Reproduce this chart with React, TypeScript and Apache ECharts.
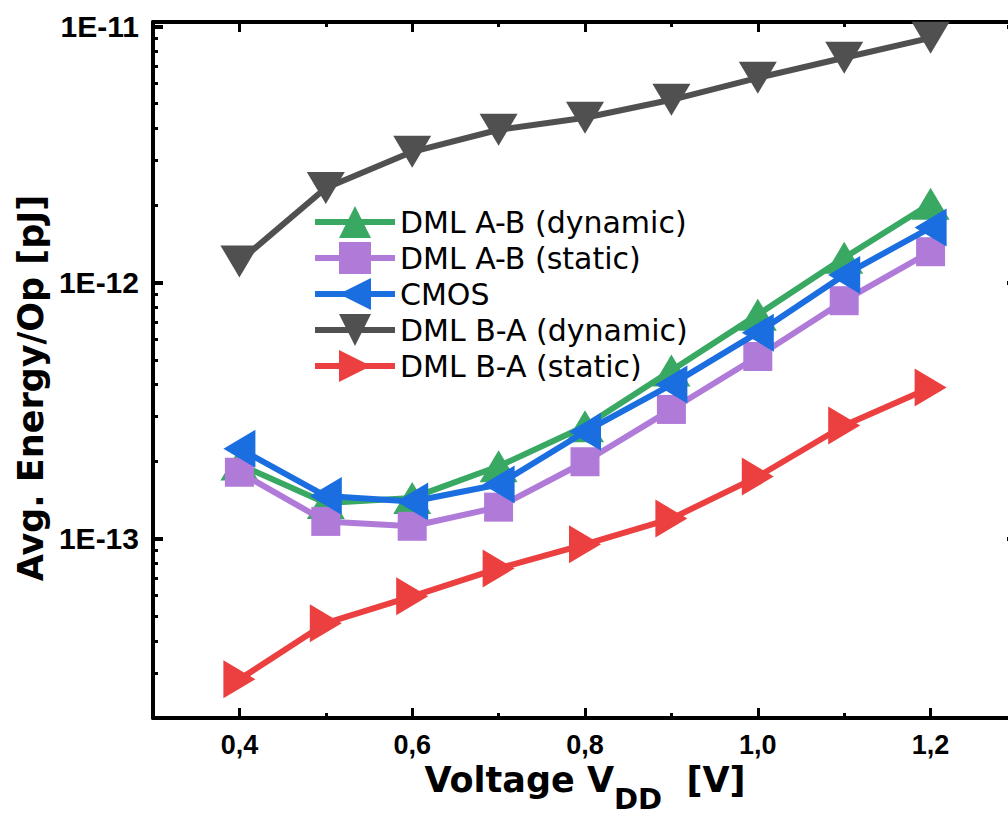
import React, { useEffect, useRef } from 'react';
import * as echarts from 'echarts';

const voltages = [0.4, 0.5, 0.6, 0.7, 0.8, 0.9, 1.0, 1.1, 1.2];
const dmlAbDynamic = [1.95e-13, 1.38e-13, 1.445e-13, 1.92e-13, 2.75e-13, 4.54e-13, 7.5e-13, 1.25e-12, 2.03e-12];
const dmlAbStatic = [1.82e-13, 1.17e-13, 1.12e-13, 1.33e-13, 2.0e-13, 3.2e-13, 5.15e-13, 8.5e-13, 1.32e-12];
const cmos = [2.25e-13, 1.47e-13, 1.4e-13, 1.63e-13, 2.62e-13, 4.0e-13, 6.38e-13, 1.07e-12, 1.64e-12];
const dmlBaDynamic = [1.21e-12, 2.34e-12, 3.24e-12, 3.95e-12, 4.4e-12, 5.17e-12, 6.3e-12, 7.54e-12, 9.02e-12];
const dmlBaStatic = [2.83e-14, 4.69e-14, 5.97e-14, 7.67e-14, 9.52e-14, 1.2e-13, 1.75e-13, 2.77e-13, 3.9e-13];

const seriesNames = ['DML A-B (dynamic)', 'DML A-B (static)', 'CMOS', 'DML B-A (dynamic)', 'DML B-A (static)'];
const seriesValues = [dmlAbDynamic, dmlAbStatic, cmos, dmlBaDynamic, dmlBaStatic];
const seriesColors = ['#38a862', '#b07ad9', '#1a6ee0', '#505050', '#ec4040'];
const seriesSymbols = ['triangle', 'rect', 'triangle', 'triangle', 'triangle'];
const seriesRotations = [0, 0, 90, 180, -90];

const xMajorTicks = [0.4, 0.6, 0.8, 1.0, 1.2];
const xMinorTicks = [0.5, 0.7, 0.9, 1.1];
const yMajorTicks = [1e-13, 1e-12, 1e-11];
const yMinorTicks = [
  2e-14, 3e-14, 4e-14, 5e-14, 6e-14, 7e-14, 8e-14, 9e-14,
  2e-13, 3e-13, 4e-13, 5e-13, 6e-13, 7e-13, 8e-13, 9e-13,
  2e-12, 3e-12, 4e-12, 5e-12, 6e-12, 7e-12, 8e-12, 9e-12,
];

const X_MIN = 0.3;
const X_MAX = 1.3;
const Y_MIN = 2e-14;
const Y_MAX = 1.04e-11;

const SANS = '"Liberation Sans", Arial, sans-serif';
const WIDE = '"DejaVu Sans", sans-serif';

export default function App() {
  const ref = useRef<HTMLDivElement>(null);
  useEffect(() => {
    const prevOverflow = document.body.style.overflow;
    document.body.style.overflow = 'hidden';
    const chart = echarts.init(ref.current!, null, { renderer: 'svg' });
    const axisLine = { show: true, lineStyle: { color: '#000', width: 4 } };
    const xBase = { type: 'value', min: X_MIN, max: X_MAX, splitLine: { show: false } };
    const yBase = { type: 'log', logBase: 10, min: Y_MIN, max: Y_MAX, splitLine: { show: false } };
    const option: any = {
      animation: false,
      backgroundColor: '#fff',
      grid: { left: 153, top: 22, width: 864, height: 696, containLabel: false },
      legend: {
        left: 312,
        top: 206,
        orient: 'vertical',
        padding: 0,
        itemWidth: 80,
        itemHeight: 40,
        itemGap: 4,
        data: seriesNames,
        lineStyle: { width: 6 },
        textStyle: { color: '#000', fontFamily: WIDE, fontSize: 30 },
      },
      xAxis: [
        {
          ...xBase,
          position: 'bottom',
          axisLine,
          axisTick: { show: true, inside: true, length: 10, lineStyle: { color: '#000', width: 3 }, customValues: xMajorTicks },
          axisLabel: {
            show: true,
            customValues: xMajorTicks,
            margin: 13,
            color: '#000',
            fontFamily: SANS,
            fontWeight: 'bold',
            fontSize: 27,
            formatter: (v: number) => v.toFixed(1).replace('.', ','),
          },
          name: '{a|Voltage V}{b|DD}{a|  [V]}',
          nameLocation: 'middle',
          nameGap: 40,
          nameTextStyle: {
            rich: {
              a: { fontFamily: WIDE, fontWeight: 'bold', fontSize: 35, lineHeight: 36, color: '#000', verticalAlign: 'top' },
              b: { fontFamily: WIDE, fontWeight: 'bold', fontSize: 29, lineHeight: 29, color: '#000', verticalAlign: 'top', padding: [22, 0, 0, 0] },
            },
          },
        },
        {
          ...xBase,
          position: 'bottom',
          axisLine: { show: false },
          axisTick: { show: true, inside: true, length: 5, lineStyle: { color: '#000', width: 3 }, customValues: xMinorTicks },
          axisLabel: { show: false },
        },
        {
          ...xBase,
          position: 'top',
          axisLine,
          axisTick: { show: true, inside: true, length: 10, lineStyle: { color: '#000', width: 3 }, customValues: xMajorTicks },
          axisLabel: { show: false },
        },
        {
          ...xBase,
          position: 'top',
          axisLine: { show: false },
          axisTick: { show: true, inside: true, length: 5, lineStyle: { color: '#000', width: 3 }, customValues: xMinorTicks },
          axisLabel: { show: false },
        },
      ],
      yAxis: [
        {
          ...yBase,
          position: 'left',
          axisLine,
          axisTick: { show: true, inside: true, length: 10, lineStyle: { color: '#000', width: 4 }, customValues: yMajorTicks },
          axisLabel: {
            show: true,
            customValues: yMajorTicks,
            margin: 14,
            color: '#000',
            fontFamily: SANS,
            fontWeight: 'bold',
            fontSize: 30,
            formatter: (v: number) => '1E' + Math.round(Math.log10(v)),
          },
          name: 'Avg. Energy/Op [pJ]',
          nameLocation: 'middle',
          nameGap: 98,
          nameTextStyle: {
            fontFamily: WIDE,
            fontWeight: 'bold',
            fontSize: 35,
            color: '#000',
            padding: [0, 36, 0, 0],
          },
        },
        {
          ...yBase,
          position: 'left',
          axisLine: { show: false },
          axisTick: { show: true, inside: true, length: 5, lineStyle: { color: '#000', width: 3 }, customValues: yMinorTicks },
          axisLabel: { show: false },
        },
        {
          ...yBase,
          position: 'right',
          axisLine,
          axisTick: { show: true, inside: true, length: 10, lineStyle: { color: '#000', width: 4 }, customValues: yMajorTicks },
          axisLabel: { show: false },
        },
      ],
      series: seriesNames.map((name, i) => ({
        name,
        type: 'line',
        xAxisIndex: 0,
        yAxisIndex: 0,
        data: voltages.map((v, j) => [v, seriesValues[i][j]]),
        symbol: seriesSymbols[i],
        symbolSize: seriesSymbols[i] === 'rect' ? 29 : [38, 32],
        symbolRotate: seriesRotations[i],
        showAllSymbol: true,
        clip: false,
        lineStyle: { color: seriesColors[i], width: 6 },
        itemStyle: { color: seriesColors[i], borderWidth: 0 },
        emphasis: { disabled: true },
        z: 2 + i,
      })),
    };
    chart.setOption(option);
    return () => {
      chart.dispose();
      document.body.style.overflow = prevOverflow;
    };
  }, []);
  return (
    <div
      ref={ref}
      style={{ position: 'fixed', left: 0, top: 0, width: 1032, height: 825, background: '#fff' }}
    />
  );
}
